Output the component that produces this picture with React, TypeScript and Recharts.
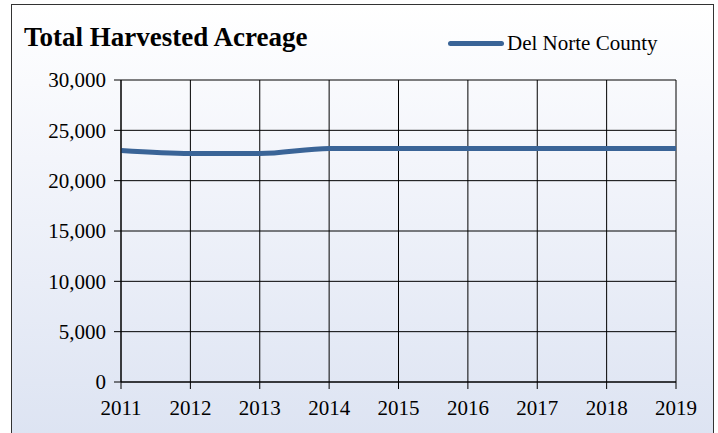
import { LineChart, Line, XAxis, YAxis, CartesianGrid } from 'recharts';

const years = ['2011', '2012', '2013', '2014', '2015', '2016', '2017', '2018', '2019'];
const acreage = [23000, 22700, 22700, 23200, 23200, 23200, 23200, 23200, 23200];
const yTicks = [0, 5000, 10000, 15000, 20000, 25000, 30000];

const data = years.map((year, i) => ({ year, acreage: acreage[i] }));

const FONT = '"Liberation Serif", "Times New Roman", serif';

export default function App() {
  return (
    <div style={{ position: 'absolute', left: 0, top: 0, width: 718, height: 433, overflow: 'hidden', background: '#fff' }}>
      <div
        style={{
          position: 'absolute', left: 11, top: 4, width: 701, height: 440,
          border: '1px solid #333',
          background: 'linear-gradient(to bottom, #ffffff 0%, #f3f5fb 35%, #dce3f2 100%)',
        }}
      />
      <div style={{ position: 'absolute', left: 24, top: 20, fontFamily: FONT, fontWeight: 'bold', fontSize: 27, color: '#000', lineHeight: '34px' }}>
        Total Harvested Acreage
      </div>
      <div style={{ position: 'absolute', left: 448, top: 30, display: 'flex', alignItems: 'center', fontFamily: FONT, fontSize: 21, lineHeight: '26px' }}>
        <div style={{ width: 56, height: 5, borderRadius: 3, background: '#3a6497' }} />
        <span style={{ marginLeft: 3 }}>Del Norte County</span>
      </div>
      <div style={{ position: 'absolute', left: 0, top: 0 }}>
        <LineChart width={718} height={433} data={data} margin={{ top: 80, right: 42, left: 8, bottom: 11 }}>
          <CartesianGrid stroke="#000" strokeWidth={1} />
          <XAxis
            dataKey="year"
            interval={0}
            padding={{ left: 0, right: 0 }}
            axisLine={{ stroke: '#000' }}
            tickLine={{ stroke: '#000' }}
            tickSize={7}
            tickMargin={11}
            tick={{ fontSize: 21, fill: '#000', fontFamily: FONT }}
            height={40}
          />
          <YAxis
            domain={[0, 30000]}
            ticks={yTicks}
            interval={0}
            width={113}
            axisLine={{ stroke: '#000' }}
            tickLine={{ stroke: '#000' }}
            tickSize={7}
            tickMargin={8}
            tickFormatter={(v: number) => v.toLocaleString('en-US')}
            tick={{ fontSize: 21, fill: '#000', fontFamily: FONT }}
          />
          <Line
            type="monotone"
            dataKey="acreage"
            stroke="#3a6497"
            strokeWidth={5}
            dot={false}
            isAnimationActive={false}
          />
        </LineChart>
      </div>
    </div>
  );
}
